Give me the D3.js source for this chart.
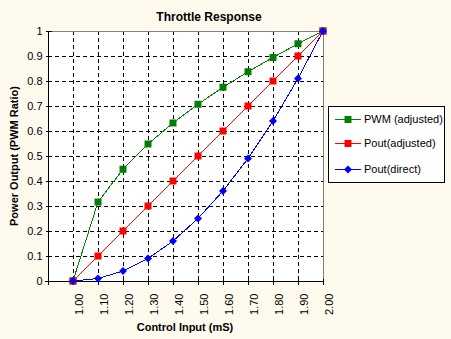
<!DOCTYPE html>
<html>
<head>
<meta charset="utf-8">
<script src="https://cdn.jsdelivr.net/npm/d3@7"></script>
<style>
  html, body { margin: 0; padding: 0; background: #FFFAEE; }
  svg { display: block; font-family: Arial, "Liberation Sans", sans-serif; }
</style>
</head>
<body>
<svg id="chart" width="451" height="339"></svg>
<script>
// Control input (ms) and the three response curves
const inputs = [1.00, 1.10, 1.20, 1.30, 1.40, 1.50, 1.60, 1.70, 1.80, 1.90, 2.00];
const pwmAdjusted = [0, 0.316, 0.447, 0.548, 0.632, 0.707, 0.775, 0.837, 0.894, 0.949, 1];
const poutAdjusted = [0, 0.1, 0.2, 0.3, 0.4, 0.5, 0.6, 0.7, 0.8, 0.9, 1];
const poutDirect = [0, 0.01, 0.04, 0.09, 0.16, 0.25, 0.36, 0.49, 0.64, 0.81, 1];
const yTicks = [0, 0.1, 0.2, 0.3, 0.4, 0.5, 0.6, 0.7, 0.8, 0.9, 1];
const seriesNames = ["PWM (adjusted)", "Pout(adjusted)", "Pout(direct)"];
const seriesColors = ["#008000", "#FF0000", "#0000FF"];
const seriesMarkers = ["square", "square", "diamond"];

const series = [pwmAdjusted, poutAdjusted, poutDirect].map((vals, i) => ({
  name: seriesNames[i], color: seriesColors[i], marker: seriesMarkers[i],
  points: vals.map((v, j) => ({ x: inputs[j], y: v }))
}));

const svg = d3.select("#chart");
const plot = { left: 48, right: 323, top: 31, bottom: 281 };

const x = d3.scaleLinear().domain([0.9, 2.0]).range([plot.left, plot.right]);
const y = d3.scaleLinear().domain([0, 1]).range([plot.bottom, plot.top]);

// plot area
svg.append("rect")
  .attr("x", plot.left).attr("y", plot.top)
  .attr("width", plot.right - plot.left).attr("height", plot.bottom - plot.top)
  .attr("fill", "#FFFFFF");

// dashed grid
const grid = svg.append("g").attr("stroke", "#000").attr("stroke-dasharray", "4,3")
  .attr("shape-rendering", "crispEdges");
grid.selectAll("line.v").data(inputs.slice(0, -1)).join("line").attr("class", "v")
  .attr("x1", d => Math.round(x(d)) + 0.5).attr("x2", d => Math.round(x(d)) + 0.5)
  .attr("y1", plot.top).attr("y2", plot.bottom);
grid.selectAll("line.h").data(yTicks.slice(1, -1)).join("line").attr("class", "h")
  .attr("y1", d => Math.round(y(d)) + 0.5).attr("y2", d => Math.round(y(d)) + 0.5)
  .attr("x1", plot.left).attr("x2", plot.right);

// top and right border
svg.append("path")
  .attr("d", `M${plot.left},${plot.top + 0.5}H${plot.right + 0.5}V${plot.bottom}`)
  .attr("fill", "none").attr("stroke", "#808080").attr("shape-rendering", "crispEdges");

// y axis
const yAxis = svg.append("g").attr("transform", `translate(${plot.left + 0.5},0)`)
  .attr("shape-rendering", "crispEdges");
yAxis.append("line").attr("y1", plot.top).attr("y2", plot.bottom + 1).attr("stroke", "#000");
yAxis.selectAll("line.t").data(yTicks).join("line").attr("class", "t")
  .attr("x1", -3).attr("x2", 3)
  .attr("y1", d => Math.round(y(d)) + 0.5).attr("y2", d => Math.round(y(d)) + 0.5)
  .attr("stroke", "#000");
yAxis.selectAll("text").data(yTicks).join("text")
  .attr("x", -6).attr("y", d => y(d)).attr("dy", "0.35em")
  .attr("text-anchor", "end").attr("font-size", 11).attr("fill", "#000")
  .text(d => d3.format("")(d));

// x axis
const xTickVals = [0.9].concat(inputs);
const xAxis = svg.append("g").attr("transform", `translate(0,${plot.bottom + 0.5})`)
  .attr("shape-rendering", "crispEdges");
xAxis.append("line").attr("x1", plot.left - 3).attr("x2", plot.right + 1).attr("stroke", "#000");
xAxis.selectAll("line.t").data(xTickVals).join("line").attr("class", "t")
  .attr("x1", d => Math.round(x(d)) + 0.5).attr("x2", d => Math.round(x(d)) + 0.5)
  .attr("y1", -3).attr("y2", 3).attr("stroke", "#000");
xAxis.selectAll("text").data(inputs).join("text")
  .attr("transform", d => `translate(${x(d) + 10},12) rotate(-90)`)
  .attr("text-anchor", "end").attr("font-size", 11).attr("fill", "#000")
  .text(d => d3.format(".2f")(d));

// series lines and markers
const line = d3.line().x(d => x(d.x)).y(d => y(d.y));
const markerPath = (type, cx, cy) => type === "square"
  ? `M${cx - 3.5},${cy - 3.5}h7v7h-7z`
  : `M${cx},${cy - 4}L${cx + 4},${cy}L${cx},${cy + 4}L${cx - 4},${cy}z`;

series.forEach(s => {
  svg.append("path").datum(s.points)
    .attr("d", line).attr("fill", "none").attr("stroke", s.color).attr("stroke-width", 1)
    .attr("shape-rendering", "crispEdges");
  svg.append("g").selectAll("path").data(s.points).join("path")
    .attr("d", d => markerPath(s.marker, x(d.x), y(d.y)))
    .attr("fill", s.color);
});

// titles
svg.append("text").attr("x", 209).attr("y", 21).attr("text-anchor", "middle")
  .attr("font-size", 12).attr("font-weight", "bold").text("Throttle Response");
svg.append("text").attr("x", 185).attr("y", 331).attr("text-anchor", "middle")
  .attr("font-size", 11).attr("font-weight", "bold").text("Control Input (mS)");
svg.append("text").attr("transform", "translate(18,156) rotate(-90)").attr("text-anchor", "middle")
  .attr("font-size", 11).attr("font-weight", "bold").text("Power Output (PWM Ratio)");

// legend
const legend = svg.append("g");
legend.append("rect").attr("x", 328.5).attr("y", 106.5).attr("width", 116).attr("height", 76)
  .attr("fill", "#FFFFFF").attr("stroke", "#000").attr("shape-rendering", "crispEdges");
const legendY = [119.5, 143.5, 169.5];
series.forEach((s, i) => {
  const ly = legendY[i];
  legend.append("line").attr("x1", 335).attr("x2", 361).attr("y1", ly).attr("y2", ly)
    .attr("stroke", s.color);
  legend.append("path").attr("d", markerPath(s.marker, 348, ly)).attr("fill", s.color);
  legend.append("text").attr("x", 364).attr("y", ly).attr("dy", "0.35em")
    .attr("font-size", 11).text(s.name);
});
</script>
</body>
</html>
